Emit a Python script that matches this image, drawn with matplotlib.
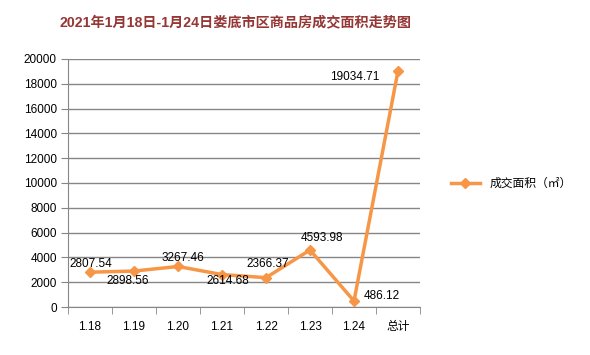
import matplotlib
matplotlib.use("Agg")
import matplotlib.pyplot as plt
from matplotlib.ticker import FixedLocator

plt.rcParams['font.family'] = ['Liberation Sans', 'Noto Sans CJK SC', 'DejaVu Sans']

categories = ["1.18", "1.19", "1.20", "1.21", "1.22", "1.23", "1.24", "总计"]
values = [2807.54, 2898.56, 3267.46, 2614.68, 2366.37, 4593.98, 486.12, 19034.71]
label_texts = ["2807.54", "2898.56", "3267.46", "2614.68", "2366.37", "4593.98", "486.12", "19034.71"]
yticks = [0, 2000, 4000, 6000, 8000, 10000, 12000, 14000, 16000, 18000, 20000]
series_name = "成交面积（㎡）"
title = "2021年1月18日-1月24日娄底市区商品房成交面积走势图"

fig = plt.figure(figsize=(5.9, 3.55), dpi=100)
ax = fig.add_axes([68/590, 1-307/355, (420-68)/590, (307-59)/355])

x = list(range(len(categories)))
line, = ax.plot(x, values, color="#F79646", linewidth=2.5, marker="D", markersize=5,
                markeredgecolor="#F79646", label=series_name)

ax.set_xlim(-0.5, len(categories) - 0.5)
ax.set_ylim(0, 20000)
ax.set_yticks(yticks)
ax.yaxis.grid(True, color="#868686", linewidth=1)
ax.set_axisbelow(True)

ax.set_xticks(x)
ax.set_xticklabels(categories, fontsize=8.5)
ax.tick_params(axis='x', length=0, pad=10)
ax.xaxis.set_minor_locator(FixedLocator([i - 0.5 for i in range(len(categories) + 1)]))
ax.tick_params(axis='x', which='minor', length=5, color="#868686", direction='out')
ax.tick_params(axis='y', length=5, color="#868686", direction='out', labelsize=8.5, pad=3)

for s in ['top', 'right']:
    ax.spines[s].set_visible(False)
for s in ['left', 'bottom']:
    ax.spines[s].set_color("#868686")

# label offsets in pixels (dx right, dy up)
offsets_px = [(1, 8), (-6, -10), (5, 8), (6, -6), (2, 14), (12, 12), (28, 5), (-43, -6)]
for i, (v, t) in enumerate(zip(values, label_texts)):
    dx, dy = offsets_px[i]
    ax.annotate(t, (i, v), xytext=(dx * 0.72, dy * 0.72), textcoords='offset points',
                ha='center', va='center', fontsize=8.5, color='black')

fig.text(235/590, 1-22/355, title, ha='center', va='center', fontsize=10.2,
         fontweight='bold', color="#953735")

leg = fig.legend(handles=[line], loc='center left', bbox_to_anchor=(440/590, 1-184/355),
                 frameon=False, fontsize=8.5, handlelength=2.5)

fig.savefig("out.png", dpi=100)
